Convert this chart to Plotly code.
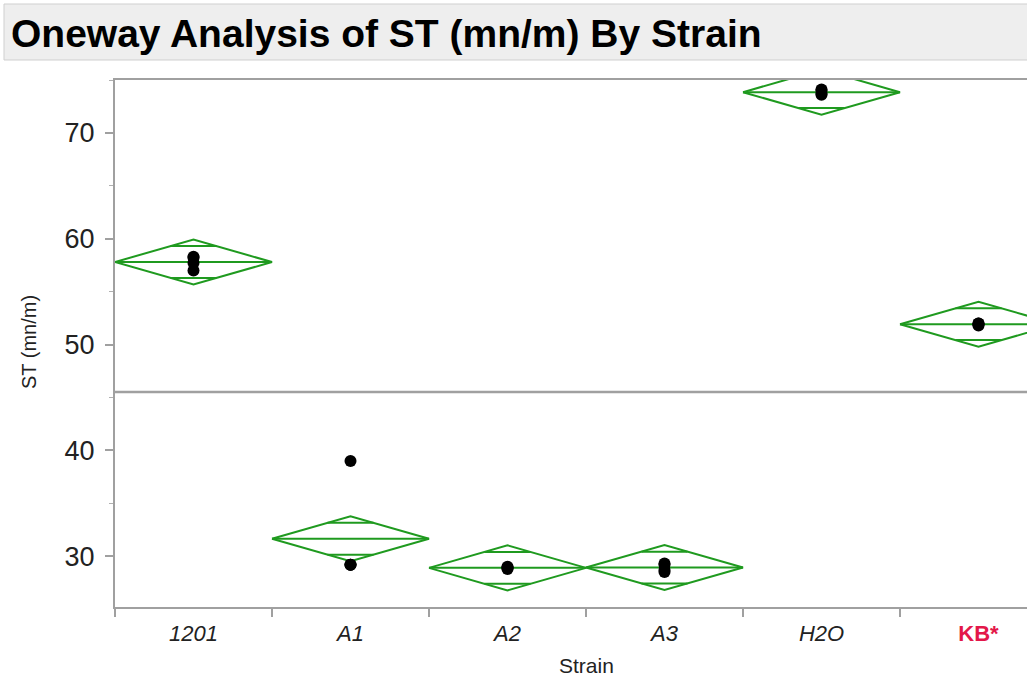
import numpy as np
import plotly.graph_objects as go

# ---- data ----
strains = ["1201", "A1", "A2", "A3", "H2O", "KB*"]
st_1201 = [58.3, 58.2, 57.7, 57.0]
st_a1 = [39.0, 29.2, 29.2, 29.2]
st_a2 = [29.0, 28.9, 28.9, 28.8]
st_a3 = [29.3, 29.2, 28.7, 28.5]
st_h2o = [74.1, 74.0, 73.7, 73.6]
st_kb = [52.0, 52.0, 51.9, 51.8]
groups = [st_1201, st_a1, st_a2, st_a3, st_h2o, st_kb]
tick_text = ["<i>1201</i>", "<i>A1</i>", "<i>A2</i>", "<i>A3</i>", "<i>H2O</i>",
             "<b><span style='color:#e3174a'>KB*</span></b>"]
t_crit = 2.1009  # t(0.975, df=18)

# ---- statistics for mean diamonds ----
means = [float(np.mean(g)) for g in groups]
ss = sum(float(np.sum((np.array(g) - np.mean(g)) ** 2)) for g in groups)
n_tot = sum(len(g) for g in groups)
df = n_tot - len(groups)
s_pooled = np.sqrt(ss / df)
grand_mean = float(np.mean(np.concatenate(groups)))

GREEN = "#1f9a1f"
fig = go.Figure()

for i, g in enumerate(groups):
    m = means[i]
    ci = t_crit * s_pooled / np.sqrt(len(g))
    # diamond
    fig.add_trace(go.Scatter(
        x=[i - 0.5, i, i + 0.5, i, i - 0.5], y=[m, m + ci, m, m - ci, m],
        mode="lines", line=dict(color=GREEN, width=2), hoverinfo="skip", showlegend=False))
    # mean line
    fig.add_trace(go.Scatter(
        x=[i - 0.5, i + 0.5], y=[m, m], mode="lines",
        line=dict(color=GREEN, width=2), hoverinfo="skip", showlegend=False))
    # overlap marks
    ov = ci / np.sqrt(2)
    hw = 0.5 * (1 - 1 / np.sqrt(2))
    for yy in (m + ov, m - ov):
        fig.add_trace(go.Scatter(
            x=[i - hw, i + hw], y=[yy, yy], mode="lines",
            line=dict(color=GREEN, width=2), hoverinfo="skip", showlegend=False))

# grand mean line
fig.add_trace(go.Scatter(
    x=[-0.5, len(groups) - 0.5], y=[grand_mean, grand_mean], mode="lines",
    line=dict(color="#a0a0a0", width=2.5), hoverinfo="skip", showlegend=False))

# points
xs, ys = [], []
for i, g in enumerate(groups):
    xs += [i] * len(g)
    ys += g
fig.add_trace(go.Scatter(x=xs, y=ys, mode="markers",
                         marker=dict(color="black", size=12), showlegend=False))

# ---- layout ----
W, H = 1027, 680
L, R, T, B = 115, 0, 80, 73
pw, ph = W - L - R, H - T - B
cat_w = 157.0
x_right = -0.5 + pw / cat_w


def px_x(px):
    return (px - L) / pw


def px_y(py):
    return (H - B - py) / ph


fig.update_layout(
    width=W, height=H, margin=dict(l=L, r=R, t=T, b=B),
    paper_bgcolor="white", plot_bgcolor="white",
    font=dict(family="Liberation Sans, Arial, sans-serif", color="#222222"),
    xaxis=dict(range=[-0.5, x_right], tickvals=list(range(len(strains))), ticktext=tick_text,
               ticks="", showgrid=False, zeroline=False, showline=True, linecolor="#a0a0a0",
               linewidth=2, mirror=True, tickfont=dict(size=22, color="#222222"),
               ticklabelstandoff=6,
               minor=dict(ticks="outside", tick0=0.5, dtick=1, ticklen=8, tickcolor="#a0a0a0",
                          tickwidth=1.5, showgrid=False)),
    yaxis=dict(range=[25.2, 75.0], tickvals=[30, 40, 50, 60, 70], ticks="outside", ticklen=8,
               tickcolor="#a0a0a0", tickwidth=1.5, showgrid=False, zeroline=False,
               showline=True, linecolor="#a0a0a0", linewidth=2,
               tickfont=dict(size=27, color="#222222"), ticklabelstandoff=5,
               minor=dict(ticks="outside", dtick=5, ticklen=4, tickcolor="#b0b0b0",
                          tickwidth=1, showgrid=False)),
    shapes=[dict(type="rect", xref="paper", yref="paper",
                 x0=px_x(4), x1=px_x(W + 5), y0=px_y(60), y1=px_y(4),
                 fillcolor="#eeeeee", line=dict(color="#cfcfcf", width=1), layer="below")],
    annotations=[
        dict(text="<b>Oneway Analysis of ST (mn/m) By Strain</b>", xref="paper", yref="paper",
             x=px_x(9), y=px_y(33), xanchor="left", yanchor="middle", showarrow=False,
             font=dict(size=39, color="#000000", family="Liberation Sans, Arial, sans-serif")),
        dict(text="ST (mn/m)", xref="paper", yref="paper", x=px_x(29), y=px_y(342),
             xanchor="center", yanchor="middle", textangle=-90, showarrow=False,
             font=dict(size=20, color="#222222")),
        dict(text="Strain", xref="paper", yref="paper", x=px_x(586), y=px_y(665),
             xanchor="center", yanchor="middle", showarrow=False,
             font=dict(size=21, color="#222222")),
    ],
)

fig.write_html("out.html", config={"displayModeBar": False},
               post_script="document.body.style.margin='0px';")
